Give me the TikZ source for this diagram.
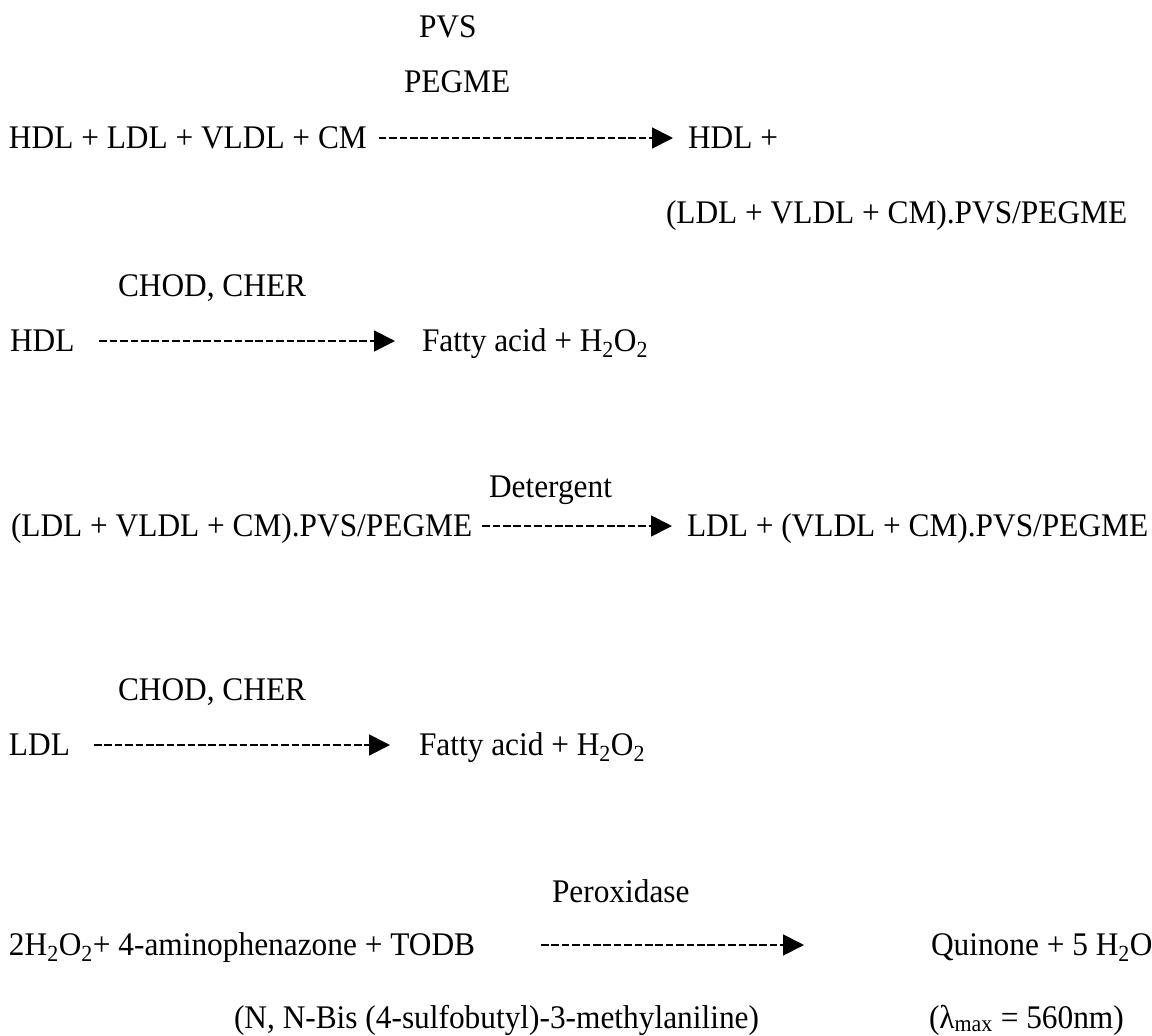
\documentclass[tikz,border=0pt]{standalone}
\usepackage{fontspec}
\setmainfont{Liberation Serif}[FakeStretch=0.95]
\usetikzlibrary{arrows.meta}
\begin{document}
\begin{tikzpicture}[x=1pt,y=-1pt,
  txt/.style={inner sep=0pt, outer sep=0pt, anchor=base west,
    text height=20pt, text depth=0pt, font=\fontsize{33}{38}\selectfont},
  rxn/.style={line width=1.8pt, dash pattern=on 7.6pt off 2.8pt,
    -{Triangle[length=21pt,width=21pt]}}]
\useasboundingbox (0,0) rectangle (1152,1036);
% reaction 1
\node[txt] (pvs) at (419,37) {PVS};
\node[txt] (pegme) at (404,92) {PEGME};
\node[txt] (r1) at (9,148) {HDL + LDL + VLDL + CM};
\node[txt] (p1a) at (688,148) {HDL +};
\node[txt] (p1b) at (666,223) {(LDL + VLDL + CM).PVS/PEGME};
\draw[rxn, shorten <=12pt, shorten >=15pt] (r1.east) -- (p1a.west);
% reaction 2
\node[txt] (enz1) at (118,296) {CHOD, CHER};
\node[txt] (r2) at (10,351) {HDL};
\node[txt] (p2) at (422,351) {Fatty acid + H\textsubscript{2}O\textsubscript{2}};
\draw[rxn, shorten <=25pt, shorten >=27pt] (r2.east) -- (p2.west);
% reaction 3
\node[txt] (det) at (489,497) {Detergent};
\node[txt] (r3) at (11,536) {(LDL + VLDL + CM).PVS/PEGME};
\node[txt] (p3) at (687,536) {LDL + (VLDL + CM).PVS/PEGME};
\draw[rxn, shorten <=10pt, shorten >=15pt] (r3.east) -- (p3.west);
% reaction 4
\node[txt] (enz2) at (118,700) {CHOD, CHER};
\node[txt] (r4) at (9,755) {LDL};
\node[txt] (p4) at (419,755) {Fatty acid + H\textsubscript{2}O\textsubscript{2}};
\draw[rxn, shorten <=24pt, shorten >=29pt] (r4.east) -- (p4.west);
% reaction 5
\node[txt] (pox) at (552,902) {Peroxidase};
\node[txt] (r5) at (9,955) {2H\textsubscript{2}O\textsubscript{2}+ 4-aminophenazone + TODB};
\node[txt] (p5) at (931,955) {Quinone + 5 H\textsubscript{2}O};
\draw[rxn, shorten <=66pt, shorten >=127pt] (r5.east) -- (p5.west);
\node[txt] (todb) at (234,1028) {(N, N-Bis (4-sulfobutyl)-3-methylaniline)};
\node[txt] (lmax) at (929,1028) {(λ\textsubscript{max} = 560nm)};
\end{tikzpicture}
\end{document}
